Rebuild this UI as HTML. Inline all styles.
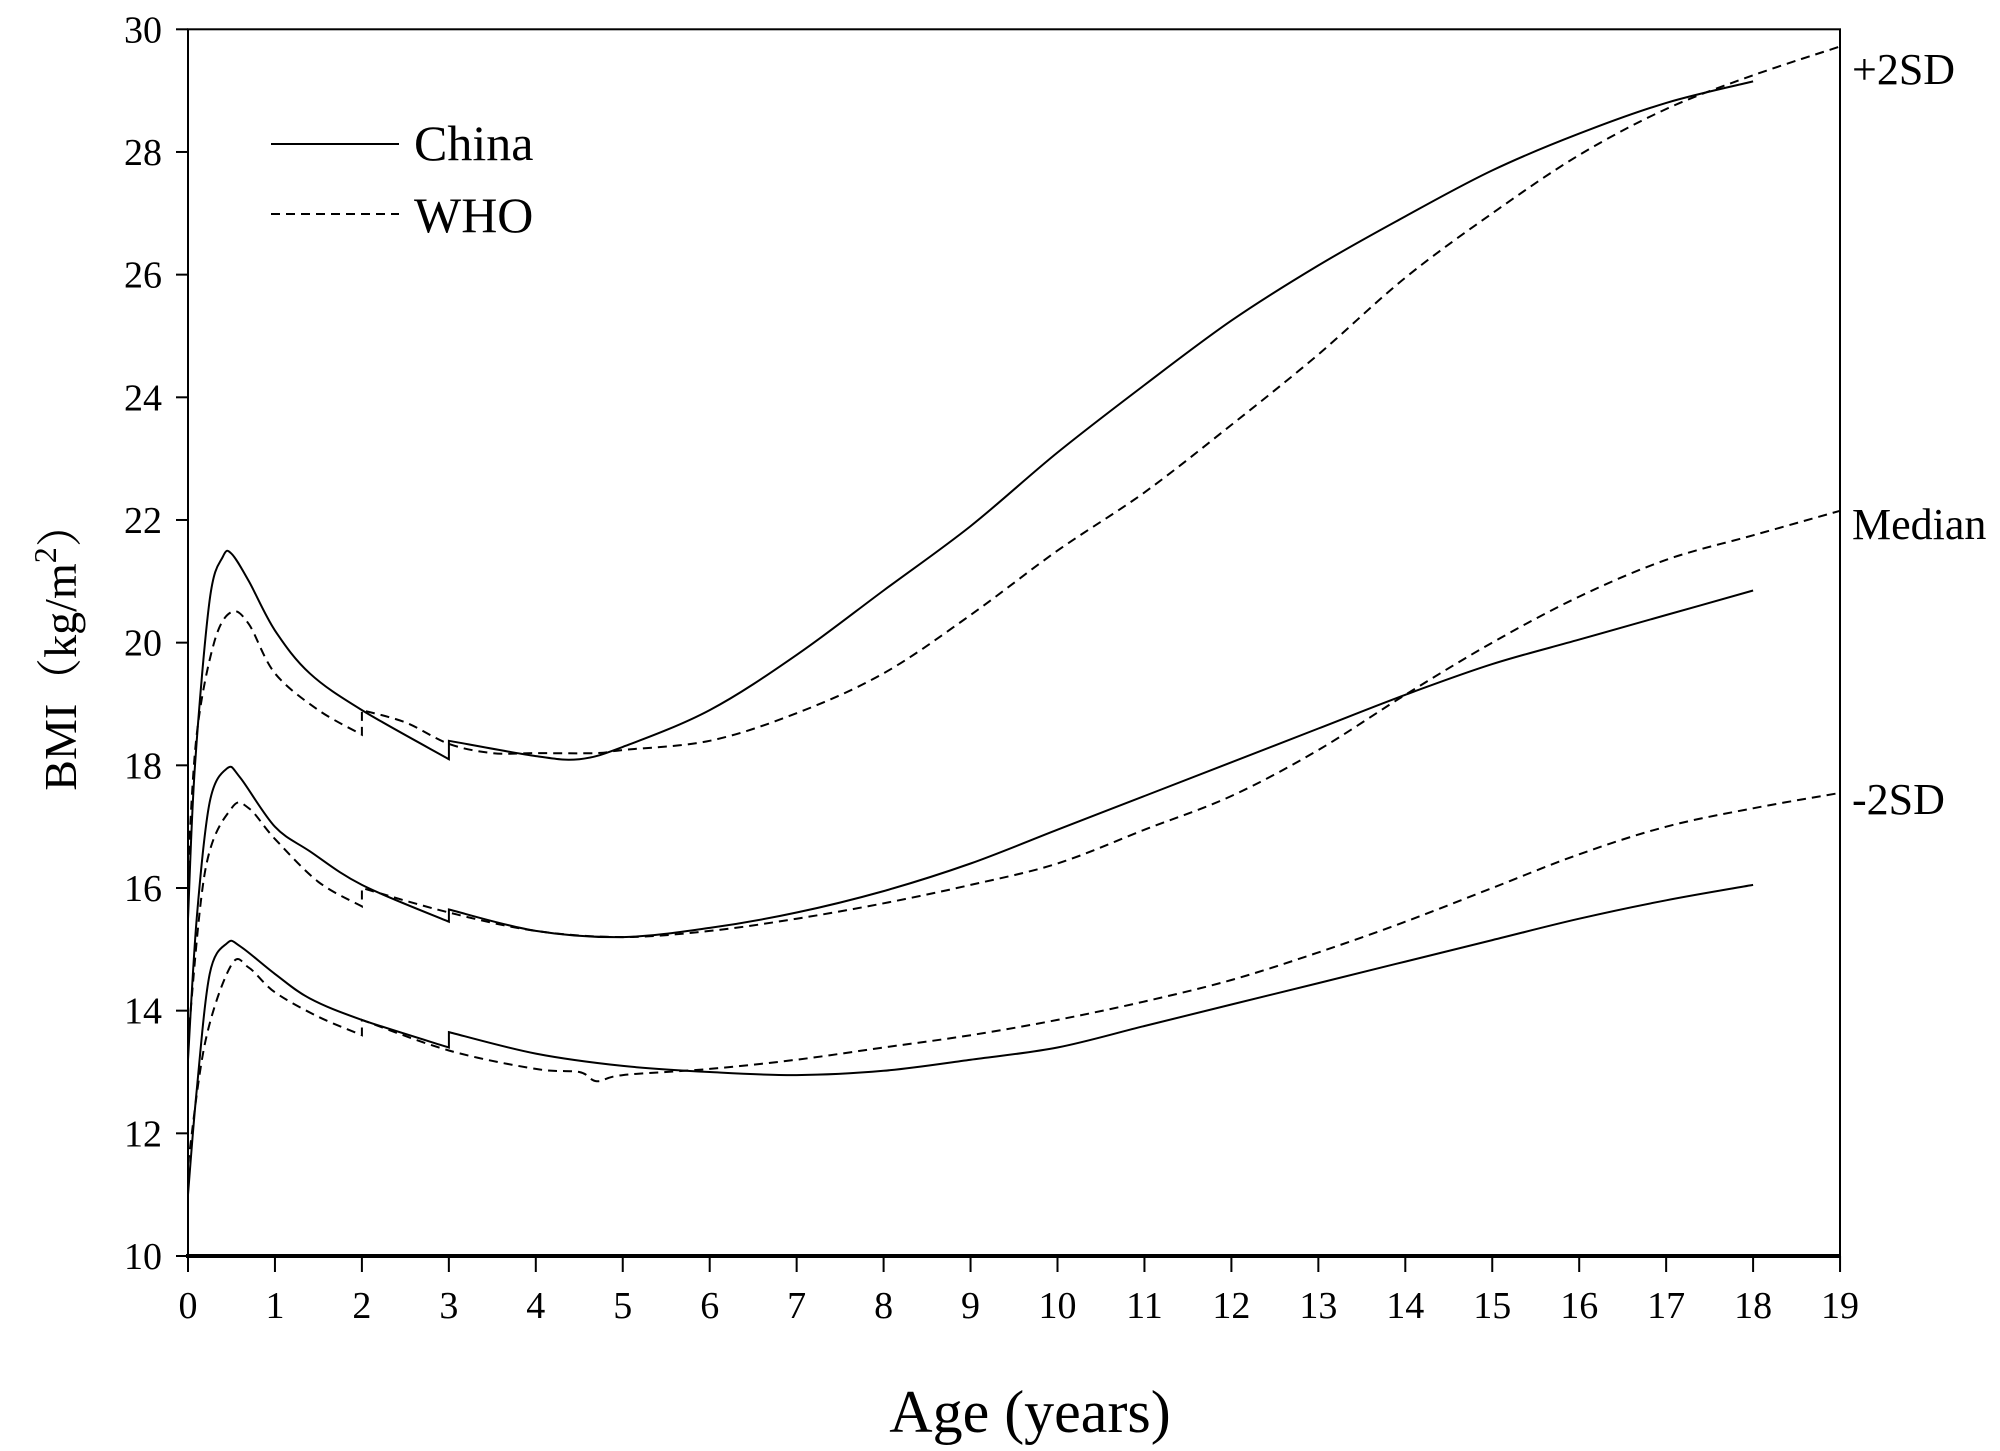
<!DOCTYPE html>
<html><head><meta charset="utf-8"><style>
html,body{margin:0;padding:0;background:#fff}
svg{display:block}
text{font-family:"Liberation Serif","Noto Serif CJK SC",serif;fill:#000}
</style></head><body>
<svg id="s" width="2000" height="1451" viewBox="0 0 2000 1451" xmlns="http://www.w3.org/2000/svg">
<rect x="188" y="29.3" width="1652" height="1226.7" fill="none" stroke="#000" stroke-width="2"/>
<line x1="186" y1="1256" x2="1841" y2="1256" stroke="#000" stroke-width="4"/>
<g id="ticks"></g>
<g id="curves" fill="none" stroke="#000" stroke-width="2"></g>
<line x1="271" y1="144" x2="399" y2="144" stroke="#000" stroke-width="2"/>
<line x1="271" y1="214" x2="399" y2="214" stroke="#000" stroke-width="2" stroke-dasharray="9,6"/>
<text x="414" y="160" font-size="50">China</text>
<text x="414" y="232" font-size="50">WHO</text>
<text x="1852" y="84" font-size="44">+2SD</text>
<text x="1852" y="539" font-size="44">Median</text>
<text x="1852" y="814" font-size="44">-2SD</text>
<text x="1030" y="1432" font-size="60" text-anchor="middle">Age (years)</text>
<text transform="translate(76,646) rotate(-90)" font-size="46" text-anchor="middle">BMI（kg/m<tspan font-size="32" dy="-20">2</tspan><tspan dy="20">）</tspan></text>
</svg>
<script>
var NS="http://www.w3.org/2000/svg";
function X(a){return 188+86.95*a}
function Y(v){return 29.3+(30-v)*61.335}
var tg=document.getElementById('ticks');
function el(n,at,p,t){var e=document.createElementNS(NS,n);for(var k in at)e.setAttribute(k,at[k]);if(t!==undefined)e.textContent=t;p.appendChild(e);return e}
for(var a=0;a<=19;a++){el('line',{x1:X(a),y1:1256,x2:X(a),y2:1272,stroke:'#000','stroke-width':2},tg);
el('text',{x:X(a),y:1318,'font-size':38,'text-anchor':'middle'},tg,a);}
for(var v=10;v<=30;v+=2){el('line',{x1:176,y1:Y(v),x2:188,y2:Y(v),stroke:'#000','stroke-width':2},tg);
el('text',{x:162,y:Y(v)+13,'font-size':38,'text-anchor':'end'},tg,v);}
var D={
c2:[[0,15.5],[0.08,18],[0.25,20.7],[0.4,21.4],[0.5,21.45],[0.7,21],[1,20.2],[1.4,19.5],[2,18.9],[3,18.1],[3,18.4],[4,18.15],[4.5,18.1],[5,18.3],[6,18.9],[7,19.8],[8,20.85],[9,21.9],[10,23.1],[11,24.2],[12,25.25],[13,26.15],[14,26.95],[15,27.7],[16,28.3],[17,28.8],[18,29.15]],
w2:[[0,16.3],[0.1,18.5],[0.3,20],[0.5,20.5],[0.7,20.3],[1,19.5],[1.5,18.9],[2,18.5],[2,18.9],[2.5,18.7],[3,18.35],[3.5,18.2],[4,18.2],[4.7,18.2],[5,18.25],[6,18.4],[7,18.85],[8,19.5],[9,20.45],[10,21.5],[11,22.45],[12,23.55],[13,24.7],[14,25.95],[15,27.0],[16,27.95],[17,28.7],[18,29.25],[19,29.72]],
cm:[[0,13.2],[0.1,15.5],[0.25,17.4],[0.45,17.95],[0.6,17.8],[1,17],[1.4,16.6],[2,16.05],[3,15.45],[3,15.65],[4,15.3],[5,15.2],[6,15.35],[7,15.6],[8,15.95],[9,16.4],[10,16.95],[11,17.5],[12,18.05],[13,18.6],[14,19.15],[15,19.65],[16,20.05],[17,20.45],[18,20.85]],
wm:[[0,13.5],[0.2,16.3],[0.5,17.3],[0.7,17.3],[1,16.8],[1.5,16.1],[2,15.7],[2,16],[3,15.6],[4,15.3],[5,15.2],[6,15.3],[7,15.5],[8,15.75],[9,16.05],[10,16.4],[11,16.95],[12,17.5],[13,18.25],[14,19.15],[15,20],[16,20.75],[17,21.35],[18,21.75],[19,22.15]],
cl:[[0,11],[0.1,12.7],[0.25,14.6],[0.45,15.1],[0.6,15.05],[1,14.6],[1.4,14.2],[2,13.85],[3,13.4],[3,13.65],[4,13.3],[5,13.1],[6,13],[7,12.95],[8,13.02],[9,13.2],[10,13.4],[11,13.75],[12,14.1],[13,14.45],[14,14.8],[15,15.15],[16,15.5],[17,15.8],[18,16.05]],
wl:[[0,11.5],[0.2,13.5],[0.5,14.75],[0.7,14.7],[1,14.3],[1.5,13.9],[2,13.6],[2,13.85],[3,13.35],[4,13.05],[4.5,13],[4.7,12.85],[5,12.95],[6,13.05],[7,13.2],[8,13.4],[9,13.6],[10,13.85],[11,14.15],[12,14.5],[13,14.95],[14,15.45],[15,16],[16,16.55],[17,17],[18,17.3],[19,17.55]]};
function cr(pts){var d='M'+pts[0][0].toFixed(1)+','+pts[0][1].toFixed(1);
for(var i=0;i<pts.length-1;i++){var p0=pts[i-1]||pts[i],p1=pts[i],p2=pts[i+1],p3=pts[i+2]||p2;
var c1=[p1[0]+(p2[0]-p0[0])/6,p1[1]+(p2[1]-p0[1])/6],c2=[p2[0]-(p3[0]-p1[0])/6,p2[1]-(p3[1]-p1[1])/6];
d+=' C'+c1[0].toFixed(1)+','+c1[1].toFixed(1)+' '+c2[0].toFixed(1)+','+c2[1].toFixed(1)+' '+p2[0].toFixed(1)+','+p2[1].toFixed(1);}
return d;}
var cg=document.getElementById('curves');
for(var k in D){var P=D[k].map(function(q){return [X(q[0]),Y(q[1])]});
var segs=[[P[0]]];for(var i=1;i<P.length;i++){if(Math.abs(P[i][0]-P[i-1][0])<0.01)segs.push([]);segs[segs.length-1].push(P[i]);}
var d='';for(var j=0;j<segs.length;j++){var sg=segs[j];d+=cr(sg)+' ';if(j<segs.length-1){var nx=segs[j+1][0];d+='L'+nx[0].toFixed(1)+','+nx[1].toFixed(1)+' ';}}
d=d.replace(/ M/g,' L');
var at={d:d};if(k[0]=='w')at['stroke-dasharray']='9,6';el('path',at,cg);}
</script>
</body></html>
